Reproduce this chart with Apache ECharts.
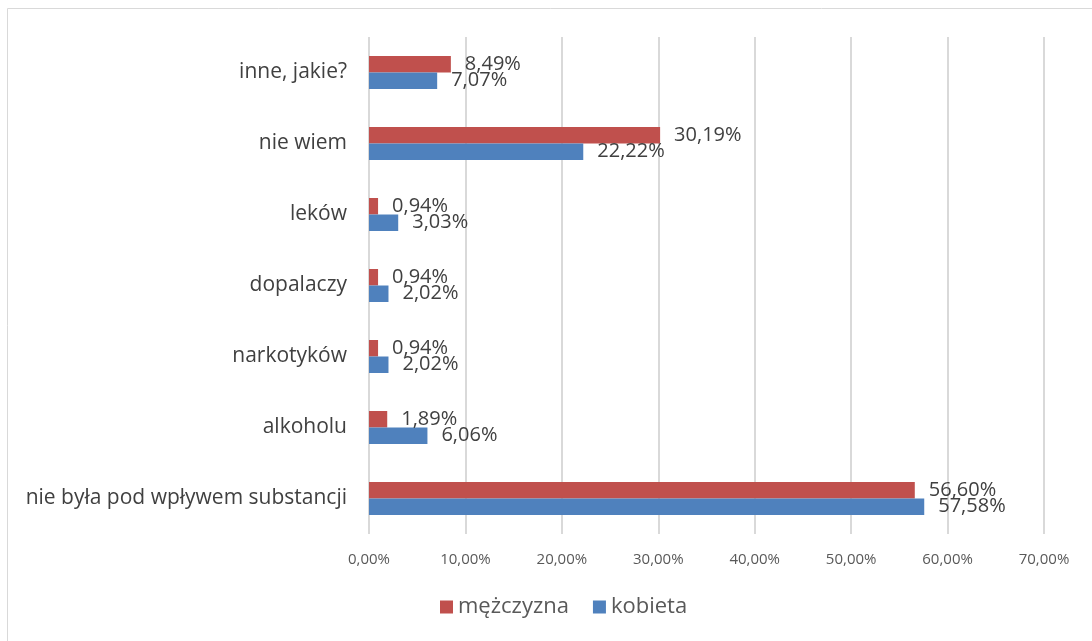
<!DOCTYPE html>
<html>
<head>
<meta charset="utf-8">
<script src="https://cdn.jsdelivr.net/npm/echarts@6/dist/echarts.min.js"></script>
<style>
  html, body { margin: 0; padding: 0; background: #fff; }
  #chart { width: 1092px; height: 641px; }
</style>
</head>
<body>
<div id="chart"></div>
<script>
// categories, bottom to top
const categories = ['nie była pod wpływem substancji', 'alkoholu', 'narkotyków', 'dopalaczy', 'leków', 'nie wiem', 'inne, jakie?']
const mezczyzna = [56.60, 1.89, 0.94, 0.94, 0.94, 30.19, 8.49]
const kobieta = [57.58, 6.06, 2.02, 2.02, 3.03, 22.22, 7.07]
const xTicks = [0, 10, 20, 30, 40, 50, 60, 70]

const fontFam = '"Open Sans", "Noto Sans", sans-serif'
const fmt = (v) => v.toFixed(2).replace('.', ',') + '%'

const chart = echarts.init(document.getElementById('chart'))

const labelOpt = {
    show: true,
    position: 'right',
    distance: 14,
    color: '#404040',
    fontSize: 20,
    fontFamily: fontFam,
    formatter: (p) => fmt(p.value)
}

chart.setOption({
    animation: false,
    graphic: [
        {
            type: 'rect',
            shape: { x: 7.5, y: 8.5, width: 1200, height: 800 },
            style: { fill: 'none', stroke: '#d9d9d9', lineWidth: 1 },
            z: -1
        }
    ],
    grid: {
        left: 369,
        top: 37,
        width: 675,
        height: 497
    },
    legend: {
        data: ['mężczyzna', 'kobieta'],
        bottom: 18,
        left: 435,
        itemWidth: 13,
        itemHeight: 13,
        itemGap: 24,
        icon: 'rect',
        textStyle: { color: '#595959', fontSize: 22, fontFamily: fontFam }
    },
    xAxis: {
        type: 'value',
        min: xTicks[0],
        max: xTicks[xTicks.length - 1],
        interval: 10,
        axisLine: { show: false },
        axisTick: { show: false },
        splitLine: { lineStyle: { color: '#d9d9d9', width: 2 } },
        axisLabel: {
            color: '#595959',
            fontSize: 15,
            fontFamily: fontFam,
            margin: 18,
            formatter: (v) => fmt(v)
        }
    },
    yAxis: {
        type: 'category',
        data: categories,
        axisLine: { show: false },
        axisTick: { show: false },
        axisLabel: {
            color: '#404040',
            fontSize: 21,
            fontFamily: fontFam,
            margin: 22
        }
    },
    series: [
        {
            name: 'mężczyzna',
            type: 'bar',
            data: mezczyzna,
            barWidth: 16.5,
            barGap: '0%',
            itemStyle: { color: '#c0504d' },
            label: labelOpt
        },
        {
            name: 'kobieta',
            type: 'bar',
            data: kobieta,
            barWidth: 16.5,
            barGap: '0%',
            itemStyle: { color: '#4f81bd' },
            label: labelOpt
        }
    ]
})
</script>
</body>
</html>
